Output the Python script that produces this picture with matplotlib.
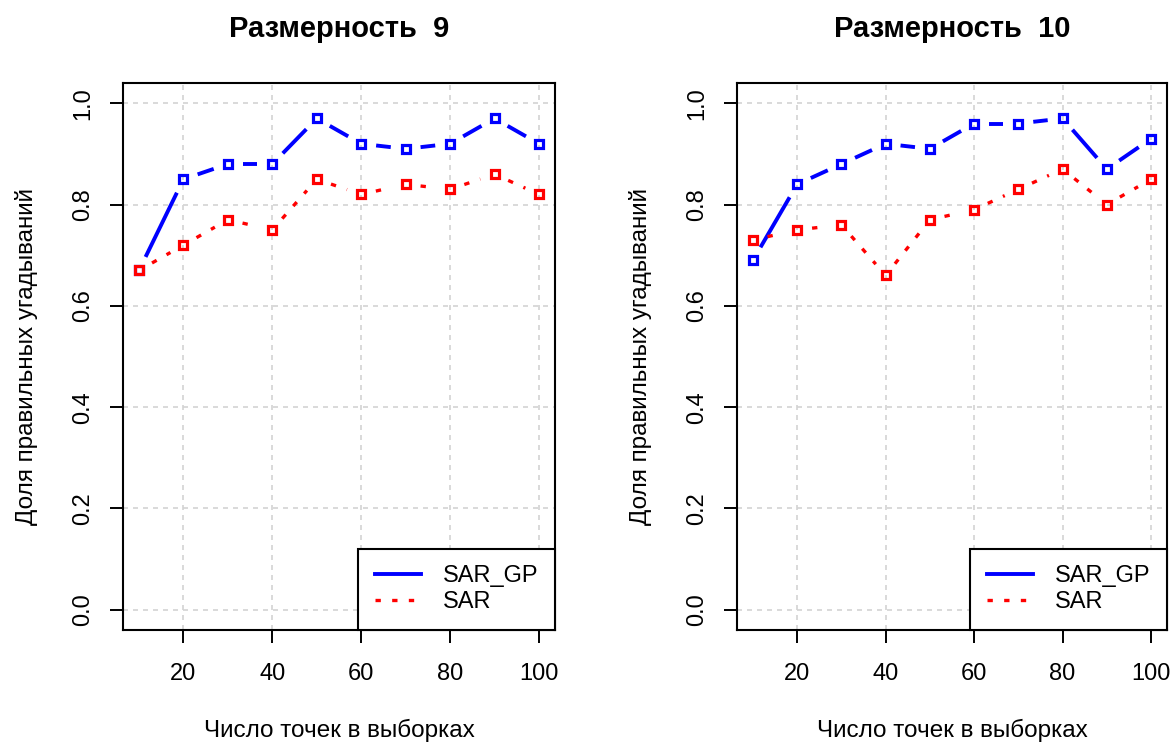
import matplotlib
matplotlib.use("Agg")
import matplotlib.pyplot as plt
import numpy as np

# ── Data ──────────────────────────────────────────────────────────────────────
n_points = [10, 20, 30, 40, 50, 60, 70, 80, 90, 100]

sar_gp_9 = [0.67, 0.85, 0.88, 0.88, 0.97, 0.92, 0.91, 0.92, 0.97, 0.92]
sar_9    = [0.67, 0.72, 0.77, 0.75, 0.85, 0.82, 0.84, 0.83, 0.86, 0.82]

sar_gp_10 = [0.69, 0.84, 0.88, 0.92, 0.91, 0.96, 0.96, 0.97, 0.87, 0.93]
sar_10    = [0.73, 0.75, 0.76, 0.66, 0.77, 0.79, 0.83, 0.87, 0.80, 0.85]

titles = ["Размерность  9", "Размерность  10"]
x_ticks = [20, 40, 60, 80, 100]
y_ticks = [0.0, 0.2, 0.4, 0.6, 0.8, 1.0]

plt.rcParams["font.family"] = ["Liberation Sans", "DejaVu Sans"]

W, H = 1173, 745
fig = plt.figure(figsize=(W / 100, H / 100), dpi=100)

BLUE = "#0000ff"
RED = "#ff0000"
DOTS = (0, (1.6, 3.4))


def px_axes(x0, x1, y0, y1):
    return fig.add_axes([x0 / W, 1 - y1 / H, (x1 - x0) / W, (y1 - y0) / H])


def gapped_line(ax, xs, ys, gap=15, **kw):
    """R-style type='b': line pieces with a gap around each point."""
    pts = ax.transData.transform(np.column_stack([xs, ys]))
    inv = ax.transData.inverted()
    for p, q in zip(pts[:-1], pts[1:]):
        d = q - p
        L = np.hypot(*d)
        if L <= 2 * gap:
            continue
        u = d / L
        a = inv.transform(p + u * gap)
        b = inv.transform(q - u * gap)
        ax.plot([a[0], b[0]], [a[1], b[1]], solid_capstyle="butt",
                dash_capstyle="butt", **kw)


panels = [
    (px_axes(123, 555, 83, 630), sar_gp_9, sar_9, titles[0]),
    (px_axes(737, 1167, 83, 630), sar_gp_10, sar_10, titles[1]),
]

for ax, gp, sar, title in panels:
    ax.set_xlim(6.4, 103.6)
    ax.set_ylim(-0.04, 1.04)
    ax.set_xticks(x_ticks)
    ax.set_yticks(y_ticks)
    ax.set_xticklabels([str(t) for t in x_ticks])
    ax.set_yticklabels([f"{t:.1f}" for t in y_ticks], rotation=90, va="center")
    ax.tick_params(direction="out", length=9.5, width=1.4, labelsize=17,
                   colors="black")
    ax.tick_params(axis="x", pad=14.5)
    ax.tick_params(axis="y", pad=11.5)
    for spine in ax.spines.values():
        spine.set_linewidth(1.5)
        spine.set_color("black")
    ax.grid(True, color="#d3d3d3", linestyle=(0, (3, 3)), linewidth=1.2)
    ax.set_axisbelow(True)

    gapped_line(ax, n_points, gp, color=BLUE, linewidth=2.8)
    gapped_line(ax, n_points, sar, color=RED, linewidth=2.4, linestyle=DOTS)
    ax.plot(n_points, gp, linestyle="none", marker="s", markersize=5.8,
            markerfacecolor="none", markeredgecolor=BLUE, markeredgewidth=2.3)
    ax.plot(n_points, sar, linestyle="none", marker="s", markersize=5.8,
            markerfacecolor="none", markeredgecolor=RED, markeredgewidth=2.3)

    # legend proxies
    h1, = ax.plot([], [], color=BLUE, linewidth=2.8)
    h2, = ax.plot([], [], color=RED, linewidth=2.4, linestyle=DOTS)
    leg = ax.legend([h1, h2], ["SAR_GP", "SAR"], loc="lower right",
                    borderaxespad=0, fancybox=False, framealpha=1,
                    edgecolor="black", fontsize=17, handlelength=1.95,
                    handletextpad=0.93, borderpad=0.7, labelspacing=0.17)
    leg.get_frame().set_linewidth(1.5)

    ax.set_title(title, fontsize=21, fontweight="bold", pad=33)
    ax.set_xlabel("Число точек в выборках", fontsize=17.5)
    ax.set_ylabel("Доля правильных угадываний", fontsize=17.5)
    ax.xaxis.set_label_coords(0.5, -0.162)
    ax.yaxis.set_label_coords(-0.197, 0.5)

fig.savefig("out.png", dpi=100, facecolor="white")
